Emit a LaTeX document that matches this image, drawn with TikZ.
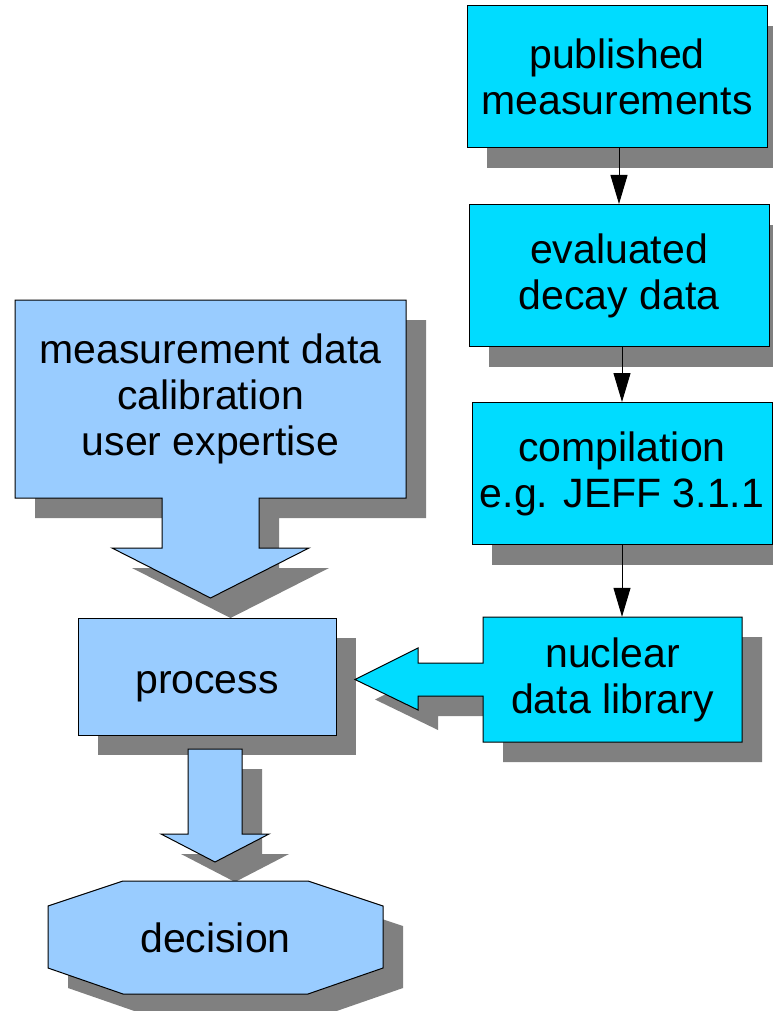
\documentclass[tikz,border=0pt]{standalone}
\usepackage{fontspec}
\setmainfont{Liberation Sans}
\usepackage{tikz}
\usetikzlibrary{arrows.meta,shadows,calc}

\definecolor{datacyan}{RGB}{0,220,255}
\definecolor{userblue}{RGB}{153,204,255}
\definecolor{shadowgray}{RGB}{128,128,128}

\tikzset{
    shade20/.style={general shadow={fill=shadowgray, shadow xshift=20pt, shadow yshift=-20pt}},
    databox/.style={draw, line width=1pt, fill=datacyan, shade20, minimum width=300pt, minimum height=142pt, align=center, font=\fontsize{41}{46}\selectfont},
    lbl/.style={align=center, font=\fontsize{41}{46}\selectfont},
    thinarrow/.style={line width=1pt, -{Triangle[length=29pt, width=17pt]}}
}

\begin{document}
\begin{tikzpicture}[x=1pt, y=-1pt]
    \useasboundingbox (0,0) rectangle (772,1011);

    % Data chain
    \foreach \n/\x/\y/\t in {pub/617/77/published\\measurements, eval/619/275.5/evaluated\\decay data, comp/622/473.5/compilation\\e.g. JEFF 3.1.1} {
        \node[databox] (\n) at (\x,\y) {\t};
    }

    % User input callout
    \filldraw[line width=1pt, fill=userblue, shade20] (15,300) -- (406,300) -- (406,498) -- (259,498) -- (259,548) -- (309,548)
        -- (210.5,598) -- (112,548) -- (162,548) -- (162,498) -- (15,498) -- cycle;
    \node[lbl, minimum width=391pt, minimum height=198pt] (meas) at (210.5,399) {measurement data\\calibration\\user expertise};

    \node[draw, line width=1pt, fill=userblue, shade20, minimum width=258pt, minimum height=117pt, lbl, text height=33pt, text depth=0pt] (proc) at (207,676.5) {process};

    % Library callout
    \filldraw[line width=1pt, fill=datacyan, shade20] (483,617) -- (742,617) -- (742,742) -- (483,742) -- (483,696) -- (418,696)
        -- (418,710) -- (355,679.5) -- (418,648) -- (418,663) -- (483,663) -- cycle;
    \node[lbl, minimum width=259pt, minimum height=125pt] (nuc) at (612.5,679.5) {nuclear\\data library};

    % Down to decision
    \filldraw[line width=1pt, fill=userblue, shade20] (188,749) -- (242,749) -- (242,834) -- (269,834) -- (215,862) -- (161,834) -- (188,834) -- cycle;
    \filldraw[line width=1pt, fill=userblue, shade20] (123,881) -- (308,881) -- (383,906) -- (383,968) -- (308,994) -- (123,994) -- (48,968) -- (48,906) -- cycle;
    \node[lbl] (dec) at (215.5,937.5) {decision};

    % Thin arrows
    \draw[thinarrow] (eval.north |- pub.south) -- (eval.north);
    \draw[thinarrow] (comp.north |- eval.south) -- (comp.north);
    \draw[thinarrow] (comp.south) -- (comp.south |- nuc.north);
\end{tikzpicture}
\end{document}
